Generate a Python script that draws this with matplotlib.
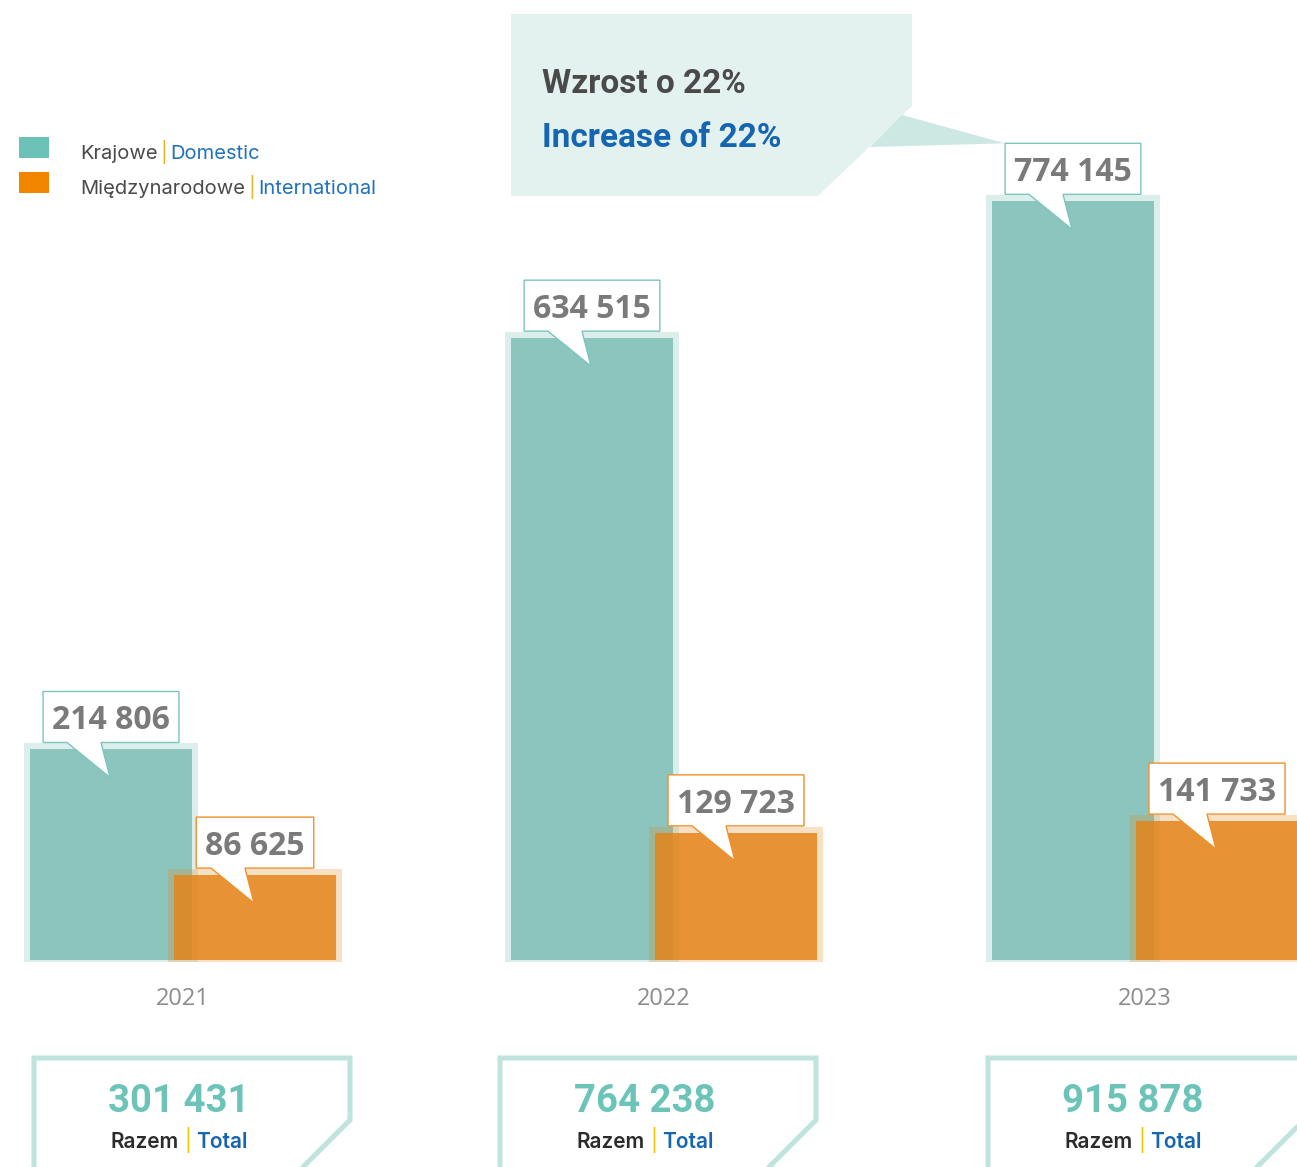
import numpy as np
import matplotlib
matplotlib.use('Agg')
import matplotlib.pyplot as plt
from matplotlib.patches import Polygon, Rectangle
import matplotlib.transforms as mtransforms

# ---------------- data ----------------
years = ['2021', '2022', '2023']
domestic = [214806, 634515, 774145]
international = [86625, 129723, 141733]
totals = [d + i for d, i in zip(domestic, international)]
growth_pct = round((domestic[-1] / domestic[-2] - 1) * 100)

legend_pl = ['Krajowe', 'Międzynarodowe']
legend_en = ['Domestic', 'International']
callout_pl = f'Wzrost o {growth_pct}%'
callout_en = f'Increase of {growth_pct}%'
total_pl, total_en = 'Razem', 'Total'


def fmt(v):
    return f'{v:,}'.replace(',', ' ')


# ---------------- layout / style ----------------
W, H = 1297, 1167
DPI = 100
GROUP_PX = 481          # distance between year groups (px)
X0_PX = 183             # centre of first group (px)
BASE_PX = 960           # baseline (px from top)
PX_PER_UNIT = 0.98 / 1000
BAR_W_PX = 162
BAR_OFF_PX = 72
PAD_PX = 6

TEAL = '#8BC5BE'
TEAL_LIGHT = '#DCEEEB'
ORANGE = '#E4851B'
TEAL_EDGE = '#7CC5BC'
ORANGE_EDGE = '#F0902C'
VAL_GRAY = '#7A7A7A'
BLUE = '#1565B0'
LEG_BLUE = '#1F72BD'

TOTAL_BOX_LEFT_PX = [34, 500, 988]
TOTAL_BOX_W_PX = 316

fig = plt.figure(figsize=(W / DPI, H / DPI), dpi=DPI)
ax = fig.add_axes([0, 0, 1, 1])
ax.set_axis_off()
ax.set_xlim(-X0_PX / GROUP_PX, (W - X0_PX) / GROUP_PX)
ax.set_ylim(-(H - BASE_PX) / PX_PER_UNIT, BASE_PX / PX_PER_UNIT)

IDT = mtransforms.IdentityTransform()
renderer = fig.canvas.get_renderer()


def P(x, y):
    """image pixel (top-left origin) -> display coords"""
    return (x, H - y)


x = np.arange(len(years))
bw = BAR_W_PX / GROUP_PX
off = BAR_OFF_PX / GROUP_PX
pad_x = PAD_PX / GROUP_PX
pad_y = PAD_PX / PX_PER_UNIT
bot_y = 2 / PX_PER_UNIT

dom = np.array(domestic)
intl = np.array(international)

ax.bar(x - off, dom + pad_y + bot_y, width=bw + 2 * pad_x, bottom=-bot_y,
       color=TEAL_LIGHT, zorder=1, linewidth=0)
ax.bar(x - off, dom, width=bw, color=TEAL, zorder=2, linewidth=0)
ax.bar(x + off, intl + pad_y + bot_y, width=bw + 2 * pad_x, bottom=-bot_y,
       color=ORANGE, alpha=0.25, zorder=3, linewidth=0)
ax.bar(x + off, intl, width=bw, color=ORANGE, alpha=0.85, zorder=4, linewidth=0)

# year labels
for xi, yr in zip(x, years):
    ax.text(xi, -(1005 - BASE_PX) / PX_PER_UNIT, yr, ha='center', va='baseline',
            fontsize=17, color='#8C8C8C', family='Open Sans', zorder=10)


# value callouts
def value_callout(xc, v, label, edge):
    tr = mtransforms.Affine2D() + mtransforms.ScaledTranslation(xc, v, ax.transData)
    t = ax.text(0, 20, label, transform=tr, ha='center', va='baseline',
                fontsize=23, fontweight='bold', family='Open Sans',
                color=VAL_GRAY, zorder=21)
    hw = t.get_window_extent(renderer).width / 2 + 9
    B, T = 7, 58
    pts = [(-hw, B), (-44, B), (-1, -28), (-10, B), (hw, B), (hw, T), (-hw, T)]
    ax.add_patch(Polygon(pts, closed=True, transform=tr, facecolor='white',
                         edgecolor=edge, linewidth=1.0, zorder=20, clip_on=False))
    ax0, ay0 = ax.transData.transform((xc, v))
    return (ax0 - hw, ay0 + T)


corners = []
for xi, d, i in zip(x, domestic, international):
    corners.append(value_callout(xi - off, d, fmt(d), TEAL_EDGE))
    value_callout(xi + off, i, fmt(i), ORANGE_EDGE)

# big growth callout
ax.add_patch(Polygon([P(511, 14), P(912, 14), P(912, 106), P(818, 196), P(511, 196)],
                     closed=True, transform=IDT, facecolor='#E3F2EF', edgecolor='none',
                     zorder=15, clip_on=False))
tip = corners[-1]
ax.add_patch(Polygon([P(902, 115), tip, P(870, 147)], closed=True, transform=IDT,
                     facecolor='#CDE7E2', edgecolor='none', zorder=15, clip_on=False))
ax.text(*P(542, 93), callout_pl, transform=IDT, ha='left', va='baseline',
        fontsize=24, fontweight='bold', family='Roboto', color='#4A4A4A', zorder=16)
ax.text(*P(542, 147), callout_en, transform=IDT, ha='left', va='baseline',
        fontsize=24, fontweight='bold', family='Roboto', color=BLUE, zorder=16)


# multi-coloured text helper
def multi_text(xp, yb, parts, ha='left', gap=4, **kw):
    widths = []
    for s, c, extra in parts:
        t = ax.text(0, 0, s, transform=IDT, **{**kw, **extra})
        widths.append(t.get_window_extent(renderer).width)
        t.remove()
    total = sum(widths) + gap * (len(parts) - 1)
    cx = xp - total / 2 if ha == 'center' else xp
    for (s, c, extra), w in zip(parts, widths):
        ax.text(cx, H - yb, s, transform=IDT, ha='left', va='baseline', color=c,
                zorder=30, **{**kw, **extra})
        cx += w + gap


# legend
leg_sq = [(137, '#6DC2B8'), (172, '#F18500')]
for (ytop, col) in leg_sq:
    ax.add_patch(Rectangle(P(19, ytop + 21), 30, 21, transform=IDT, facecolor=col,
                           edgecolor='none', zorder=30, clip_on=False))
for yb, pl, en in zip([159, 194], legend_pl, legend_en):
    multi_text(80, yb, [(pl, '#4A4A4A', {}), ('|', '#E6B325', {}), (en, LEG_BLUE, {})],
               gap=3, fontsize=14.5, family='Inter')

# total boxes
for left, tot in zip(TOTAL_BOX_LEFT_PX, totals):
    R = left + TOTAL_BOX_W_PX
    ax.add_patch(Polygon([P(left, 1220), P(left, 1058), P(R, 1058), P(R, 1120),
                          P(R - 100, 1220)], closed=False, transform=IDT,
                         facecolor='none', edgecolor='#BFE3DD', linewidth=3.6,
                         joinstyle='miter', zorder=30, clip_on=False))
    cx = left + 145
    ax.text(*P(cx, 1112), fmt(tot), transform=IDT, ha='center', va='baseline',
            fontsize=27.5, fontweight='bold', family='Roboto', color='#6CC4B8', zorder=31)
    multi_text(cx, 1148, [(total_pl, '#2B2B2B', {}), ('|', '#F5C400', {'fontweight': 'normal'}),
                          (total_en, BLUE, {})],
               ha='center', gap=5, fontsize=15, family='Inter', fontweight='semibold')

fig.savefig('out.png', dpi=DPI)
